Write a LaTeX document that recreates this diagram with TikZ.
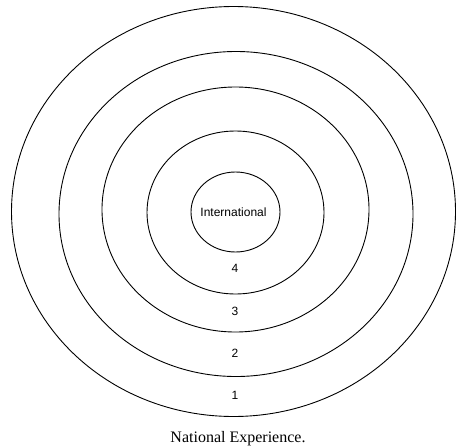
\documentclass[tikz,border=0pt]{standalone}
\usepackage{fontspec}
\setmainfont{Liberation Serif}
\setsansfont{Liberation Sans}
\usetikzlibrary{shapes.geometric, positioning}

\begin{document}
\begin{tikzpicture}[x=1pt, y=-1pt]
            \tikzstyle{ring}=[draw, ellipse, line width=0.9pt, inner sep=0pt]
            \tikzstyle{band}=[font=\sffamily\fontsize{12}{13}\selectfont, inner sep=1pt]
            \useasboundingbox (0,0) rectangle (457,447);
            \node[ring, minimum width=444pt, minimum height=410pt] (ring1) at (233.5,211.5) {};
            \node[ring, minimum width=354pt, minimum height=325pt] (ring2) at (236,214) {};
            \node[ring, minimum width=267pt, minimum height=245pt] (ring3) at (235.5,209.5) {};
            \node[ring, minimum width=177pt, minimum height=163pt] (ring4) at (235.5,212.5) {};
            \node[ring, minimum width=89pt, minimum height=80pt] (core) at (235.5,212) {};
            \node[band] (intl) at (233.5,212) {International};
            \node[band] (lab4) at (235,268) {4};
            \node[band] (lab3) at (235,311) {3};
            \node[band] (lab2) at (235,353) {2};
            \node[band] (lab1) at (235,395) {1};
            \node[font=\fontsize{16}{18}\selectfont, inner sep=0pt] (title) at (238,439) {National Experience.};
\end{tikzpicture}
\end{document}
